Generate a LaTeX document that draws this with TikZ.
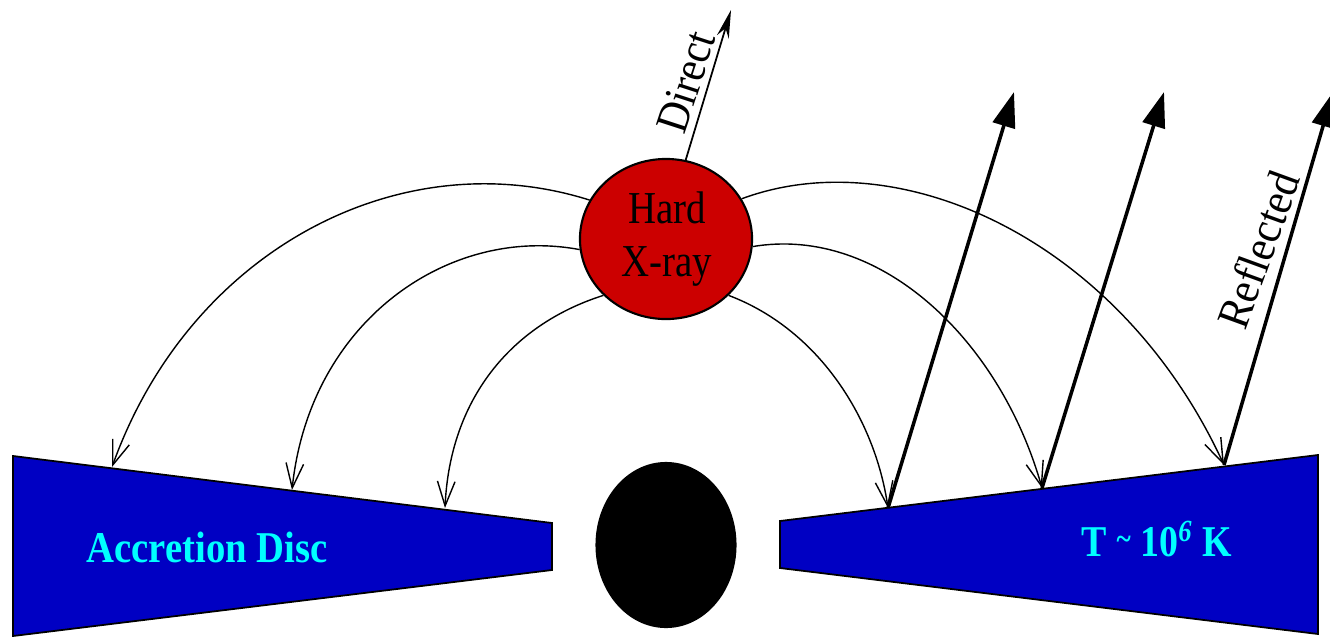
\documentclass[tikz,border=0pt]{standalone}
\usepackage{fontspec}
\setmainfont{Liberation Serif}
\usetikzlibrary{arrows.meta,shapes.geometric}

\definecolor{discblue}{RGB}{0,0,195}
\definecolor{ballred}{RGB}{204,0,0}
\definecolor{disctext}{RGB}{0,255,255}

\begin{document}
\begin{tikzpicture}[x=.01cm,y=-.01cm]
        \tikzstyle{every node} = [font=\fontsize{13}{15}\selectfont]
        \tikzstyle{disc} = [draw=black,fill=discblue,line width=.5pt]
        \tikzstyle{disclabel} = [text=disctext,font=\fontsize{12.5}{15}\selectfont\bfseries,xscale=.88]
        \tikzstyle{photon} = [line width=.4pt,-{Straight Barb[length=7pt,width=5pt]}]
        \tikzstyle{reflected} = [line width=1pt,-{Triangle[length=10pt,width=6.5pt]}]
        \useasboundingbox (0,0) rectangle (1330,636);

        % the two halves of the disc
        \draw[disc] (13,456) -- (552,523) -- (552,570) -- (13,636) -- cycle;
        \draw[disc] (780,521) -- (1318,455) -- (1318,634) -- (780,568) -- cycle;
        \node[disclabel] (disc) at (207,547) {Accretion Disc};
        \node[disclabel,xscale=.98] (temp) at (1157,539) {T {\fontsize{9}{9}\selectfont\raisebox{2pt}{\char`\~}} 10\textsuperscript{\textit{6}} K};

        % hole and corona
        \node[ellipse,fill=black,minimum width=1.41cm,minimum height=1.66cm,inner sep=0pt] (hole) at (666,545) {};
        \node[ellipse,draw=black,fill=ballred,line width=.6pt,minimum width=1.72cm,minimum height=1.6cm,inner sep=0pt] (ball) at (666,239) {};
        \node[xscale=.85] (hard) at (667,208) {Hard};
        \node[xscale=.85] (xray) at (667,266) {X-ray};

        % points where the rays land and leave
        \coordinate (l1) at (112,467);
        \coordinate (l2) at (292,490);
        \coordinate (l3) at (445,508);
        \coordinate (r1) at (888,508);
        \coordinate (r2) at (1042,488);
        \coordinate (r3) at (1224,465);
        \coordinate (o1) at (1014,92);
        \coordinate (o2) at (1164,92);
        \coordinate (o3) at (1333,92);
        \coordinate (top) at (731,10);

        \draw[photon] (ball.153) .. controls (400,140) and (190,250) .. (l1);
        \draw[photon] (ball.187) .. controls (450,225) and (310,320) .. (l2);
        \draw[photon] (ball.222) .. controls (510,325) and (450,400) .. (l3);
        \draw[photon] (ball.318) .. controls (820,330) and (875,420) .. (r1);
        \draw[photon] (ball.-5) .. controls (880,225) and (1000,340) .. (r2);
        \draw[photon] (ball.28) .. controls (900,140) and (1120,240) .. (r3);

        \foreach \from/\to in {r1/o1, r2/o2, r3/o3}
            \draw[reflected] (\from) -- (\to);
        \draw[line width=.5pt,-{Stealth[length=8pt,width=3.5pt]}] (ball.76) -- (top);

        \node[rotate=72,xscale=.9] (direct) at (686,82) {Direct};
        \node[rotate=70,xscale=.93] (refl) at (1258,250) {Reflected};
      \end{tikzpicture}
\end{document}
